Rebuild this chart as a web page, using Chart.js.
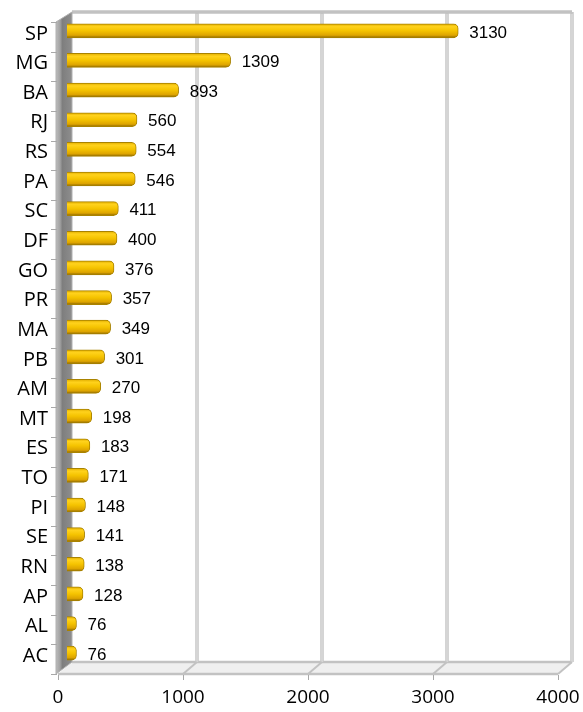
<!DOCTYPE html>
<html><head><meta charset="utf-8">
<script src="https://cdn.jsdelivr.net/npm/chart.js@4/dist/chart.umd.min.js"></script>
<style>html,body{margin:0;padding:0;background:#fff}</style>
</head><body>
<canvas id="c" width="583" height="712"></canvas>
<script>
const categories = ['SP','MG','BA','RJ','RS','PA','SC','DF','GO','PR','MA','PB','AM','MT','ES','TO','PI','SE','RN','AP','AL','AC'];
const values = [3130,1309,893,560,554,546,411,400,376,357,349,301,270,198,183,171,148,141,138,128,76,76];
const xTicks = [0,1000,2000,3000,4000];

const DEPTH_X = 14, DEPTH_Y = -12;   // back wall offset
const BAR_DX = 9, BAR_DY = -6;       // bars sit mid-depth

function barFill(c){
  const chart = c.chart;
  if(!chart.scales || !chart.scales.y || c.dataIndex === undefined) return '#F2C200';
  const y = chart.scales.y.getPixelForValue(c.dataIndex);
  if (!isFinite(y)) return '#F2C200';
  const g = chart.ctx.createLinearGradient(0, y-7, 0, y+7);
  g.addColorStop(0, '#E2AE00');
  g.addColorStop(0.2, '#FFD21C');
  g.addColorStop(0.5, '#F5C300');
  g.addColorStop(0.82, '#DDA400');
  g.addColorStop(1, '#8A6600');
  return g;
}

const frame3d = {
  id: 'frame3d',
  beforeDatasetsDraw(chart){
    const ctx = chart.ctx, a = chart.chartArea, xs = chart.scales.x;
    const L = a.left, R = a.right, T = a.top, B = a.bottom;
    const bT = 12, bB = B + DEPTH_Y;
    ctx.save();
    ctx.beginPath();
    ctx.moveTo(L, B); ctx.lineTo(R, B); ctx.lineTo(R+DEPTH_X, bB); ctx.lineTo(L+DEPTH_X, bB); ctx.closePath();
    ctx.fillStyle = '#efefef'; ctx.fill();
    ctx.strokeStyle = '#c2c2c2'; ctx.lineWidth = 2.5;
    ctx.beginPath(); ctx.moveTo(L, B); ctx.lineTo(R, B); ctx.stroke();
    ctx.beginPath(); ctx.moveTo(L+DEPTH_X, bB); ctx.lineTo(R+DEPTH_X, bB); ctx.stroke();
    xTicks.forEach(v => {
      const x = xs.getPixelForValue(v);
      if (v === 0) return;
      ctx.strokeStyle = '#c6c6c6'; ctx.lineWidth = 3.5;
      ctx.beginPath(); ctx.moveTo(x+DEPTH_X, bT); ctx.lineTo(x+DEPTH_X, bB); ctx.stroke();
      ctx.strokeStyle = '#e4e4e4'; ctx.lineWidth = 1;
      ctx.beginPath(); ctx.moveTo(x+DEPTH_X, bT+2); ctx.lineTo(x+DEPTH_X, bB); ctx.stroke();
      ctx.strokeStyle = '#c2c2c2'; ctx.lineWidth = 2;
      ctx.beginPath(); ctx.moveTo(x, B); ctx.lineTo(x+DEPTH_X, bB); ctx.stroke();
    });
    ctx.strokeStyle = '#c2c2c2'; ctx.lineWidth = 3.5;
    ctx.beginPath(); ctx.moveTo(L+DEPTH_X, bT); ctx.lineTo(R+DEPTH_X, bT); ctx.stroke();
    ctx.beginPath();
    ctx.moveTo(L-2, T); ctx.lineTo(L+DEPTH_X, bT); ctx.lineTo(L+DEPTH_X, bB); ctx.lineTo(L-2, B); ctx.closePath();
    const wg = ctx.createLinearGradient(L-2, 0, L+DEPTH_X, 0);
    wg.addColorStop(0, '#bcbcbc'); wg.addColorStop(0.25, '#a2a2a2'); wg.addColorStop(0.4, '#7e7e7e'); wg.addColorStop(1, '#8e8e8e');
    ctx.fillStyle = wg; ctx.fill();
    ctx.strokeStyle = '#b0b0b0'; ctx.lineWidth = 1; ctx.stroke();
    ctx.strokeStyle = '#a8a8a8'; ctx.lineWidth = 1;
    xTicks.forEach(v => {
      const x = Math.round(xs.getPixelForValue(v)) + 0.5;
      ctx.beginPath(); ctx.moveTo(x, B+1); ctx.lineTo(x, B+6); ctx.stroke();
    });
    const step = (B - T) / categories.length;
    for (let i = 0; i <= categories.length; i++){
      const y = Math.round(T + i*step) + 0.5;
      ctx.beginPath(); ctx.moveTo(L-7, y); ctx.lineTo(L-1, y); ctx.stroke();
    }
    ctx.restore();
    ctx.save();
    ctx.translate(BAR_DX, BAR_DY);
  },
  afterDatasetsDraw(chart){
    const ctx = chart.ctx;
    ctx.restore();
    const meta = chart.getDatasetMeta(0);
    ctx.save();
    ctx.font = '17px "Liberation Sans", Arial, sans-serif';
    ctx.fillStyle = '#000';
    ctx.textBaseline = 'middle';
    ctx.textAlign = 'left';
    meta.data.forEach((bar, i) => {
      ctx.fillText(String(values[i]), bar.x + BAR_DX + 11, bar.y + BAR_DY + 2);
    });
    ctx.restore();
  }
};

new Chart(document.getElementById('c'), {
  type: 'bar',
  data: {
    labels: categories,
    datasets: [{
      data: values,
      backgroundColor: barFill,
      borderColor: '#A98300',
      borderWidth: 1,
      borderSkipped: 'start',
      borderRadius: 5,
      barThickness: 14
    }]
  },
  options: {
    responsive: false,
    animation: false,
    devicePixelRatio: 1,
    indexAxis: 'y',
    layout: { padding: { left: 0, right: 25, top: 22, bottom: 0 } },
    plugins: { legend: { display: false }, tooltip: { enabled: false } },
    scales: {
      x: {
        min: 0, max: 4000,
        afterBuildTicks(s){ s.ticks = xTicks.map(v => ({ value: v })); },
        ticks: { font: { family: 'Open Sans', size: 19 }, color: '#000', padding: 12, maxRotation: 0, autoSkip: false,
                 callback: v => String(v) },
        grid: { display: false, drawTicks: false },
        border: { display: false },
        afterFit(s){ s.height = 38; s.paddingLeft = 0; s.paddingRight = 0; }
      },
      y: {
        ticks: { font: { family: 'Open Sans', size: 20 }, color: '#000', padding: 10, autoSkip: false, labelOffset: -3 },
        grid: { display: false, drawTicks: false },
        border: { display: false },
        afterFit(s){ s.width = 58; s.paddingTop = 0; s.paddingBottom = 0; }
      }
    }
  },
  plugins: [frame3d]
});
</script>
</body></html>
